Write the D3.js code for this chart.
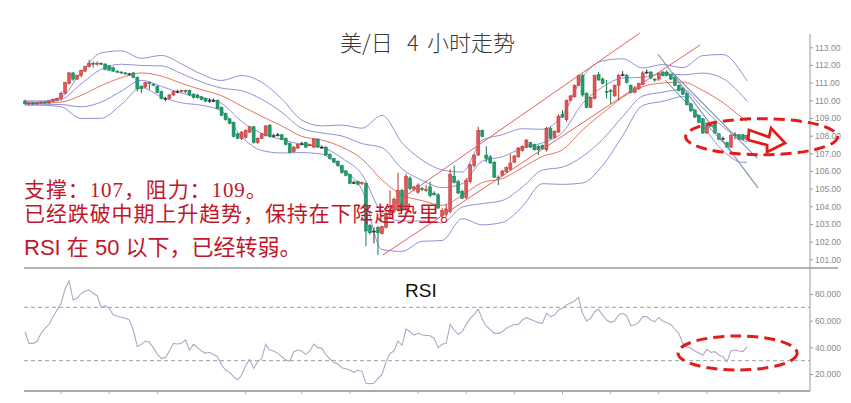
<!DOCTYPE html>
<html><head><meta charset="utf-8">
<script src="https://cdn.jsdelivr.net/npm/d3@7"></script>
<style>body{margin:0;background:#fff}svg{display:block}</style>
</head><body>
<svg id="c" width="851" height="403"></svg>
<script>
// ---- candle data (USD/JPY 4h) ----
const open  = [109.95,109.8,109.85,109.8,109.85,109.9,109.85,109.95,110.0,110.1,110.4,110.95,111.55,111.2,111.4,111.65,111.9,112.1,112.05,112.1,112.05,111.95,111.85,111.65,111.6,111.55,111.5,111.55,111.3,110.8,110.75,111.0,110.9,110.8,110.5,110.1,110.1,110.3,110.5,110.5,110.55,110.55,110.35,110.3,110.2,110.1,110.0,110.0,110.0,109.6,109.25,108.95,108.75,108.1,107.85,107.9,108.2,108.5,107.6,107.85,108.0,108.6,108.0,108.05,108.05,107.85,107.55,107.1,107.3,107.55,107.6,107.45,107.35,107.8,107.35,107.35,106.95,106.7,106.55,106.3,106.0,105.8,105.35,105.4,105.3,105.3,102.9,102.6,102.8,102.45,102.8,103.6,103.7,103.8,104.9,103.8,105.6,104.95,104.8,105.0,104.9,105.1,104.75,104.65,103.45,103.55,103.7,105.7,105.4,104.85,104.5,105.4,106.3,106.9,108.3,106.9,106.8,106.5,105.65,105.75,105.95,106.1,106.5,106.8,107.15,107.35,107.6,107.5,107.4,107.45,107.2,108.4,107.9,108.2,109.2,108.9,110.0,110.2,110.85,111.4,110.4,109.6,110.1,111.45,111.2,110.5,110.55,110.25,110.85,111.45,111.4,110.85,110.45,110.65,110.9,111.6,111.6,111.2,111.2,111.6,111.6,111.45,111.3,110.85,110.7,110.4,109.8,109.45,109.15,108.95,108.15,108.6,108.8,108.1,107.85,107.6,107.35,108.05,108.05,108.05,107.8];
const high  = [110.05,109.9,109.9,109.9,109.95,109.95,110.0,110.1,110.15,110.5,111.05,111.6,111.6,111.45,111.75,111.95,112.3,112.2,112.2,112.15,112.1,112.0,111.9,111.7,111.65,111.6,111.55,111.6,111.35,110.85,111.05,111.05,110.95,110.85,110.55,110.2,110.35,110.55,110.6,110.6,110.6,110.6,110.4,110.35,110.25,110.15,110.1,110.1,110.05,109.65,109.3,109.0,108.8,108.15,108.25,108.35,108.55,108.55,107.9,108.15,108.6,108.65,108.1,108.15,108.1,107.9,107.6,107.4,107.55,107.65,107.65,107.55,107.85,107.85,107.45,107.4,107.0,106.75,106.6,106.35,106.05,105.85,105.45,105.45,105.4,105.35,103.0,102.8,102.9,102.9,103.7,104.9,104.5,105.9,105.0,105.85,105.7,105.15,105.3,105.1,105.2,105.4,104.85,104.75,103.9,104.1,106.1,106.3,105.5,104.95,105.6,106.4,106.95,108.5,108.35,107.4,106.9,106.55,105.75,106.05,106.25,106.95,106.9,107.35,107.45,107.8,107.65,107.55,107.45,107.5,108.5,108.5,108.3,109.2,109.45,110.05,110.3,110.9,111.45,111.5,110.45,110.2,111.45,111.6,111.3,111.15,110.65,110.9,111.5,111.65,111.5,110.9,110.8,111.0,111.65,111.75,111.65,111.25,111.6,111.65,111.7,111.5,111.35,110.9,110.75,110.45,109.85,109.5,109.2,109.0,108.65,108.75,108.85,108.15,107.95,107.65,108.1,108.2,108.1,108.1,108.05];
const low   = [109.75,109.7,109.75,109.75,109.8,109.8,109.8,109.9,109.95,110.0,110.35,110.9,111.1,111.15,111.3,111.6,111.85,111.85,111.95,112.0,111.7,111.65,111.6,111.55,111.5,111.45,111.4,111.25,110.5,110.4,110.7,110.6,110.8,110.4,110.05,109.95,110.05,110.25,110.4,110.45,110.4,110.25,110.1,110.1,110.0,109.9,109.85,109.9,109.5,109.1,108.85,108.65,107.9,107.8,107.75,107.85,108.15,107.55,107.55,107.8,107.95,107.9,107.9,107.95,107.75,107.45,107.0,107.05,107.25,107.45,107.3,107.4,107.3,107.3,107.25,106.85,106.65,106.45,106.25,105.85,105.7,105.25,105.25,105.2,105.2,101.75,102.4,101.9,101.25,102.4,102.75,103.3,103.6,103.7,103.75,103.7,104.9,104.85,104.7,104.85,104.8,104.5,104.6,103.85,103.3,103.4,103.6,105.3,104.7,104.4,104.4,105.3,106.2,106.85,107.9,106.5,106.4,105.6,105.2,105.7,105.9,106.0,106.45,106.75,107.1,107.3,107.3,107.15,106.9,107.2,107.1,107.8,107.85,108.15,109.0,108.8,109.95,110.15,110.8,110.2,109.55,109.55,110.05,111.1,110.9,110.1,109.8,110.2,110.0,111.35,110.95,110.4,110.4,110.6,110.85,111.5,111.2,111.05,111.1,111.35,111.35,111.15,110.8,110.5,110.3,109.7,109.35,109.0,108.7,108.1,108.1,108.5,108.1,107.75,107.75,107.3,107.3,107.8,107.75,107.75,107.75];
const close = [109.8,109.85,109.8,109.85,109.9,109.85,109.95,110.05,110.1,110.4,111.0,111.55,111.2,111.4,111.7,111.9,112.1,112.05,112.1,112.05,111.75,111.7,111.65,111.6,111.55,111.5,111.5,111.3,110.65,110.65,111.0,110.95,110.85,110.45,110.1,110.1,110.3,110.5,110.5,110.55,110.5,110.3,110.15,110.15,110.05,109.95,110.0,110.0,109.55,109.15,108.9,108.7,107.95,107.85,108.2,108.3,108.5,107.6,107.85,108.1,108.55,107.95,108.0,108.05,107.8,107.5,107.05,107.35,107.5,107.55,107.35,107.5,107.8,107.35,107.35,106.9,106.7,106.5,106.3,105.9,105.75,105.3,105.35,105.25,105.35,102.6,102.5,102.6,102.5,102.85,103.6,103.7,104.4,104.9,103.8,105.7,105.0,105.1,105.2,104.95,104.95,104.6,104.65,103.9,103.75,103.85,105.8,105.35,104.75,104.45,105.45,106.35,106.9,108.3,107.95,106.7,106.45,105.65,105.6,106.0,106.2,106.45,106.85,107.3,107.4,107.75,107.35,107.2,107.2,107.25,108.4,107.85,108.25,109.1,109.05,110.0,110.25,110.85,111.4,110.3,109.6,110.15,111.4,111.15,110.95,110.45,110.5,110.85,111.4,111.45,111.0,110.45,110.7,110.95,111.55,111.6,111.25,111.15,111.55,111.4,111.4,111.2,110.85,110.55,110.35,109.75,109.4,109.05,108.75,108.15,108.6,108.6,108.15,107.8,107.85,107.35,108.0,108.05,107.8,107.8,108.0];

const bandBars = [0,4,9,14,19,24,29,34,39,44,49,54,59,64,69,74,79,84,89,94,99,104,109,114,119,124,129,134,139,144,149,154,159,164,169,174,179,180];
const bandOuterUp = [109.97,109.96,110.17,111.59,112.68,112.8,112.38,112.54,112.06,111.48,111.12,111.4,111.02,110.08,108.88,108.55,108.6,108.42,109.15,107.6,106.62,106.06,105.94,107.75,108.05,108.39,108.36,109.16,111.32,112.23,112.35,111.83,112.02,111.85,112.53,112.59,111.45,111.1];
const bandInnerUp = [109.91,109.9,110.04,110.93,111.76,112.04,111.97,111.95,111.51,111.04,110.69,110.54,110.06,109.32,108.42,108.15,107.98,107.55,107.32,106.12,105.47,105.06,105.28,106.55,106.81,107.29,107.59,108.18,109.82,110.75,111.26,111.3,111.5,111.44,111.54,111.23,110.21,109.95];
const bandMid     = [109.85,109.84,109.9,110.28,110.83,111.28,111.55,111.37,110.96,110.6,110.26,109.67,109.09,108.55,107.96,107.75,107.35,106.68,105.49,104.64,104.32,104.06,104.62,105.35,105.57,106.19,106.82,107.2,108.32,109.27,110.17,110.77,110.98,111.03,110.55,109.87,108.97,108.8];
const bandInnerLo = [109.79,109.78,109.76,109.63,109.9,110.52,111.13,110.79,110.41,110.16,109.83,108.8,108.12,107.78,107.5,107.35,106.73,105.81,103.66,103.16,103.17,103.06,103.96,104.15,104.33,105.09,106.05,106.22,106.82,107.79,109.08,110.24,110.46,110.62,109.56,108.51,107.73,107.65];
const bandOuterLo = [109.73,109.72,109.63,108.97,108.98,109.76,110.72,110.2,109.86,109.72,109.4,107.94,107.16,107.02,107.04,106.95,106.1,104.94,101.55,101.45,102.02,102.06,103.3,102.95,103.09,103.99,105.28,105.24,105.32,106.31,107.99,109.71,109.94,110.21,108.57,107.15,106.49,106.5];

// ---- trend lines: [barFrom, priceFrom, barTo, priceTo] ----
const upChannelTop = [89.75,103.79,153.3,113.81];
const upChannelBot = [89.25,101.25,168.3,113.13];
const downLineA    = [157.8,112.62,182.75,105.04];
const downLineB    = [161.3,111.6,182.5,106.73];
const downLineC    = [159.6,111.15,177.0,106.9];

// ---- RSI ----
const rsiBars = [0,1,2,3,4,5,6,7,8,9,10,11,12,13,14,15,16,17,18,19,20,21,22,24,25,26,27,28,29,30,31,32,33,34,35,36,37,38,39,40,41,42,43,44,45,46,48,49,50,51,52,53,54,55,56,57,58,59,60,61,62,63,65,66,67,68,69,70,71,72,73,74,75,76,77,78,79,80,81,82,83,84,85,86,87,88,89,90,91,92,93,94,95,96,97,98,99,101,102,103,104,105,106,107,108,109,110,111,112,113,114,115,117,118,119,120,122,123,124,125,127,128,129,130,131,132,133,134,135,137,138,139,140,141,142,143,144,145,146,147,148,149,150,151,152,153,154,155,156,157,158,159,161,162,163,164,165,166,167,169,170,171,172,173,174,175,176,177,178,179,180];
const rsiVals = [51.7,43,43,44.3,50.5,54.3,57.3,63,68,73,84,89.75,75.5,76.8,80.5,82.25,83,80.5,78.7,69.75,71.25,69.3,64.25,62.5,61.75,60.5,53,40.5,42.25,44.75,43.75,39.75,34.75,31.75,32.25,37.25,43,42.5,43,45.5,38,42.25,39.75,37.25,35.5,36.25,33,26.75,23,21.25,18,15.5,19.25,26.25,31,24.25,29.25,31.5,42.25,38,37.25,35.5,30.5,29.75,36.75,38,37.25,34.75,37.25,42.5,39.75,39.25,34.75,31.25,28.75,27.25,24.75,24,23,21.25,23,22,13,12.75,13,16.75,19.5,29.25,35.5,37.25,44.75,41.5,53.75,51.75,49.25,50.5,49.25,48.75,46.75,39.75,42.25,43,57.25,53,49.75,51.75,57.25,61.75,64.75,68.75,61,56,50.5,50.5,51.75,54.25,57.25,57,60.5,62.25,59.75,58.5,58,65.5,63,64.25,68,69.25,71.75,74.75,77.25,65.5,59.75,61.75,66.75,68.5,64.25,60.5,58.75,59.75,64.25,65.5,63.75,56.25,56.75,58.75,63,63,60.5,59.25,62.25,59.75,57.25,53.75,50.5,43,40.5,39.25,37.25,34.25,38.5,36.25,36.75,34.25,33,29.25,37.25,38,37.25,36.75,40.5];

const priceTicks = [101,102,103,104,105,106,107,108,109,110,111,112,113];
const rsiTicks = [20,40,60,80];
const rsiLevels = [70,30];
const dayTicks = [9,21,33,55,69,81,98,110,122,134,146,158,170,188];

const svg = d3.select('#c');
const x  = d3.scaleLinear().domain([0,180]).range([25,747]);
const y  = d3.scaleLinear().domain([101,113]).range([259.3,47.3]);
const yR = d3.scaleLinear().domain([20,80]).range([374,294]);

const axisX = 810;
// frame lines
svg.append('line').attr('x1',24).attr('x2',838).attr('y1',268).attr('y2',268).attr('stroke','#9a9a9a').attr('stroke-width',1.5);
svg.append('line').attr('x1',24).attr('x2',axisX).attr('y1',391).attr('y2',391).attr('stroke','#aaa').attr('stroke-width',2);
svg.append('line').attr('x1',axisX).attr('x2',axisX).attr('y1',34).attr('y2',391).attr('stroke','#999').attr('stroke-width',1);
svg.append('g').selectAll('line').data(dayTicks).join('line')
  .attr('x1',d=>x(d)).attr('x2',d=>x(d)).attr('y1',391).attr('y2',394).attr('stroke','#aaa');

// price axis
const ga = svg.append('g').attr('transform',`translate(${axisX},0)`)
  .call(d3.axisRight(y).tickValues(priceTicks).tickFormat(d3.format('.2f')).tickSize(3).tickPadding(2));
ga.select('.domain').remove();
ga.selectAll('line').attr('stroke','#999');
ga.selectAll('text').attr('fill','#8a8a8a').style('font','8.5px "Liberation Sans", Arial, sans-serif');

// RSI axis (clipped like the source)
svg.append('clipPath').attr('id','rclip').append('rect').attr('x',axisX-5).attr('y',268).attr('width',841-axisX+5).attr('height',130);
const gr = svg.append('g').attr('clip-path','url(#rclip)').append('g').attr('transform',`translate(${axisX},0)`)
  .call(d3.axisRight(yR).tickValues(rsiTicks).tickFormat(d=>d.toFixed(4)).tickSize(3).tickPadding(2));
gr.select('.domain').remove();
gr.selectAll('line').attr('stroke','#999');
gr.selectAll('text').attr('fill','#8a8a8a').style('font','8.5px "Liberation Sans", Arial, sans-serif');

// bands
const bandLine = vals => d3.line().x((d,i)=>x(bandBars[i])).y(d=>y(d)).curve(d3.curveMonotoneX)(vals);
[[bandOuterUp,'#8f90d8'],[bandInnerUp,'#8f90d8'],[bandInnerLo,'#8f90d8'],[bandOuterLo,'#8f90d8'],[bandMid,'#e27564']].forEach(([v,c])=>{
  svg.append('path').attr('d',bandLine(v)).attr('fill','none').attr('stroke',c).attr('stroke-width',1);
});

// candles
const idx = d3.range(close.length);
const col = i => close[i]>open[i] ? '#e25656' : (close[i]<open[i] ? '#1f9e6c' : '#333');
const edge = i => close[i]>open[i] ? '#b83232' : (close[i]<open[i] ? '#167a52' : '#333');
const gc = svg.append('g');
gc.selectAll('line').data(idx).join('line')
  .attr('x1',i=>x(i)).attr('x2',i=>x(i)).attr('y1',i=>y(high[i])).attr('y2',i=>y(low[i]))
  .attr('stroke',i=>close[i]===open[i]?'#333':edge(i)).attr('stroke-width',1);
gc.selectAll('rect').data(idx).join('rect')
  .attr('x',i=>x(i)-1.5).attr('width',3)
  .attr('y',i=>y(Math.max(open[i],close[i])))
  .attr('height',i=>Math.max(1,Math.abs(y(open[i])-y(close[i]))))
  .attr('fill',col).attr('stroke',edge).attr('stroke-width',0.5);

// trend lines
const seg = (s,c,w)=>svg.append('line').attr('x1',x(s[0])).attr('y1',y(s[1])).attr('x2',x(s[2])).attr('y2',y(s[3])).attr('stroke',c).attr('stroke-width',w);
seg(upChannelTop,'#e06058',1);
seg(upChannelBot,'#e06058',1);
seg(downLineA,'#7f8fa6',1.1);
seg(downLineB,'#7f8fa6',1.1);
seg(downLineC,'#2f9ea3',1);

// title
const t = svg.append('text').attr('y',51).attr('fill','#3a3a3a')
  .style('font','300 22px "Noto Sans CJK SC", sans-serif');
t.append('tspan').attr('x',340).text('美/日');
t.append('tspan').attr('x',407).text('4');
t.append('tspan').attr('x',427).text('小时走势');

// red comments
const red = '#c1172b';
svg.append('text').attr('x',24).attr('y',197).attr('fill',red).style('letter-spacing','0.9px')
  .style('font','21px "Liberation Serif", "Noto Sans CJK SC", serif').text('支撑：107，阻力：109。');
svg.append('text').attr('x',24).attr('y',221).attr('fill',red).style('letter-spacing','0.9px')
  .style('font','21px "Liberation Serif", "Noto Sans CJK SC", serif').text('已经跌破中期上升趋势，保持在下降趋势里。');
svg.append('text').attr('x',24).attr('y',255).attr('fill',red)
  .style('font','22px "Liberation Sans", "Noto Sans CJK SC", sans-serif').text('RSI 在 50 以下，已经转弱。');

// RSI panel
svg.append('g').selectAll('line').data(rsiLevels).join('line')
  .attr('x1',24).attr('x2',axisX).attr('y1',d=>yR(d)).attr('y2',d=>yR(d))
  .attr('stroke','#a0a0a0').attr('stroke-dasharray','4,3').attr('stroke-width',1);
svg.append('path').attr('d',d3.line().x((d,i)=>x(rsiBars[i])).y(d=>yR(d))(rsiVals))
  .attr('fill','none').attr('stroke','#b4a4c8').attr('stroke-width',1.1);
svg.append('text').attr('x',405).attr('y',297).attr('fill','#111')
  .style('font','19px "Liberation Sans", Arial, sans-serif').text('RSI');

// annotations (data space)
const focus = {b0:164.7,b1:202.6,p0:108.96,p1:106.92};
svg.append('ellipse').attr('cx',(x(focus.b0)+x(focus.b1))/2).attr('cy',(y(focus.p0)+y(focus.p1))/2)
  .attr('rx',(x(focus.b1)-x(focus.b0))/2).attr('ry',(y(focus.p1)-y(focus.p0))/2)
  .attr('fill','none').attr('stroke','#e31b1b').attr('stroke-width',3).attr('stroke-dasharray','11,6');
const arrow = [[180.5,108.32],[185.5,107.92],[186.0,108.43],[189.5,107.58],[185.0,107.07],[185.0,107.47],[180.3,107.75]];
svg.append('polygon').attr('points',arrow.map(d=>[x(d[0]),y(d[1])].join(',')).join(' '))
  .attr('fill','#fff').attr('stroke','#e31b1b').attr('stroke-width',2.8).attr('stroke-linejoin','miter');
const rFocus = {b0:162.8,b1:192.5,r0:48.5,r1:23};
svg.append('ellipse').attr('cx',(x(rFocus.b0)+x(rFocus.b1))/2).attr('cy',(yR(rFocus.r0)+yR(rFocus.r1))/2)
  .attr('rx',(x(rFocus.b1)-x(rFocus.b0))/2).attr('ry',(yR(rFocus.r1)-yR(rFocus.r0))/2)
  .attr('fill','none').attr('stroke','#e31b1b').attr('stroke-width',3).attr('stroke-dasharray','11,6');
</script>
</body></html>
